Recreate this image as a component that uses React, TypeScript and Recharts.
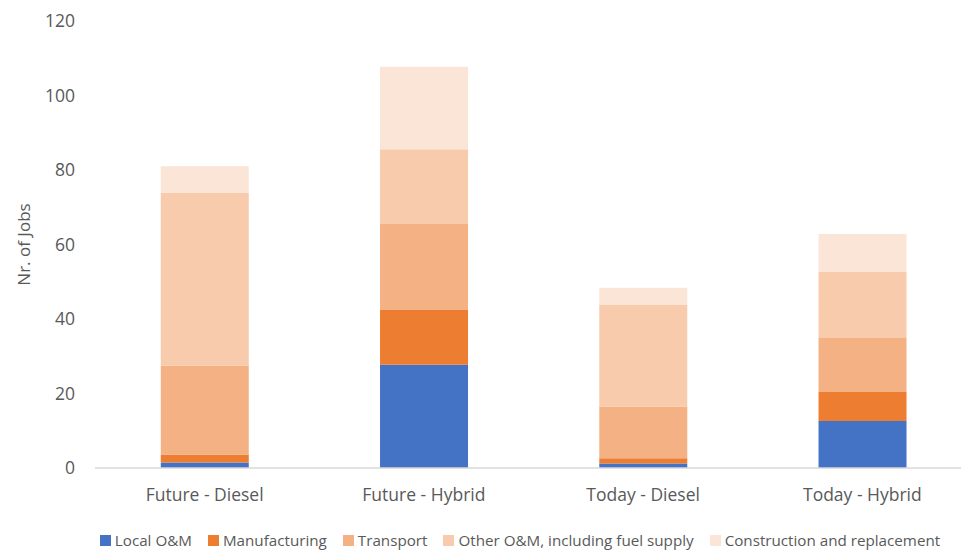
import { Bar, BarChart, Label, Legend, XAxis, YAxis } from "recharts"

const scenarios = ["Future - Diesel", "Future - Hybrid", "Today - Diesel", "Today - Hybrid"]

const localOM = [1.5, 27.7, 1.2, 12.6]
const manufacturing = [2.1, 14.7, 1.4, 7.8]
const transport = [23.9, 23.1, 13.9, 14.5]
const otherOM = [46.4, 20.1, 27.4, 17.7]
const construction = [7.1, 22.1, 4.5, 10.2]

const yTicks = [0, 20, 40, 60, 80, 100, 120]

const series = [
  { key: "local", name: "Local O&M", values: localOM, color: "#4472C4" },
  { key: "manufacturing", name: "Manufacturing", values: manufacturing, color: "#ED7D31" },
  { key: "transport", name: "Transport", values: transport, color: "#F4B183" },
  { key: "other", name: "Other O&M, including fuel supply", values: otherOM, color: "#F8CBAD" },
  { key: "construction", name: "Construction and replacement", values: construction, color: "#FBE5D6" },
]

const data = scenarios.map((name, i) => {
  const row: Record<string, string | number> = { name }
  series.forEach((s) => {
    row[s.key] = s.values[i]
  })
  return row
})

const font = "'Open Sans', sans-serif"
const textColor = "#595959"

// legend kept in series order (recharts sorts it by name otherwise)
function LegendRow() {
  return (
    <div
      style={{
        display: "flex",
        justifyContent: "center",
        gap: 16,
        paddingLeft: 68,
        fontFamily: font,
        fontSize: 15.2,
        color: textColor,
      }}
    >
      {series.map((s) => (
        <span key={s.key} style={{ display: "flex", alignItems: "center" }}>
          <span style={{ width: 11, height: 11, background: s.color, marginRight: 4, display: "inline-block" }} />
          {s.name}
        </span>
      ))}
    </div>
  )
}

export default function App() {
  return (
    <div style={{ position: "absolute", left: 0, top: 0, width: 961, height: 552, overflow: "hidden", background: "#fff" }}>
      <BarChart
        width={972}
        height={552}
        data={data}
        barCategoryGap="30%"
        margin={{ top: 21, right: 0, left: 0, bottom: 14 }}
        style={{ fontFamily: font }}
      >
        <XAxis
          dataKey="name"
          tickLine={false}
          axisLine={{ stroke: "#D9D9D9", strokeWidth: 1.5 }}
          tick={{ fontSize: 17.5, fill: textColor }}
          tickMargin={15}
          height={50}
        />
        <YAxis
          domain={[0, 120]}
          ticks={yTicks}
          tickLine={false}
          axisLine={false}
          tick={{ fontSize: 17.5, fill: textColor }}
          tickMargin={14}
          width={95}
        >
          <Label
            value="Nr. of Jobs"
            angle={-90}
            position="insideLeft"
            offset={24}
            style={{ fontSize: 17, fill: textColor, textAnchor: "middle" }}
          />
        </YAxis>
        <Legend verticalAlign="bottom" content={() => <LegendRow />} wrapperStyle={{ bottom: 2 }} />
        {series.map((s) => (
          <Bar key={s.key} dataKey={s.key} name={s.name} stackId="jobs" fill={s.color} isAnimationActive={false} />
        ))}
      </BarChart>
    </div>
  )
}
